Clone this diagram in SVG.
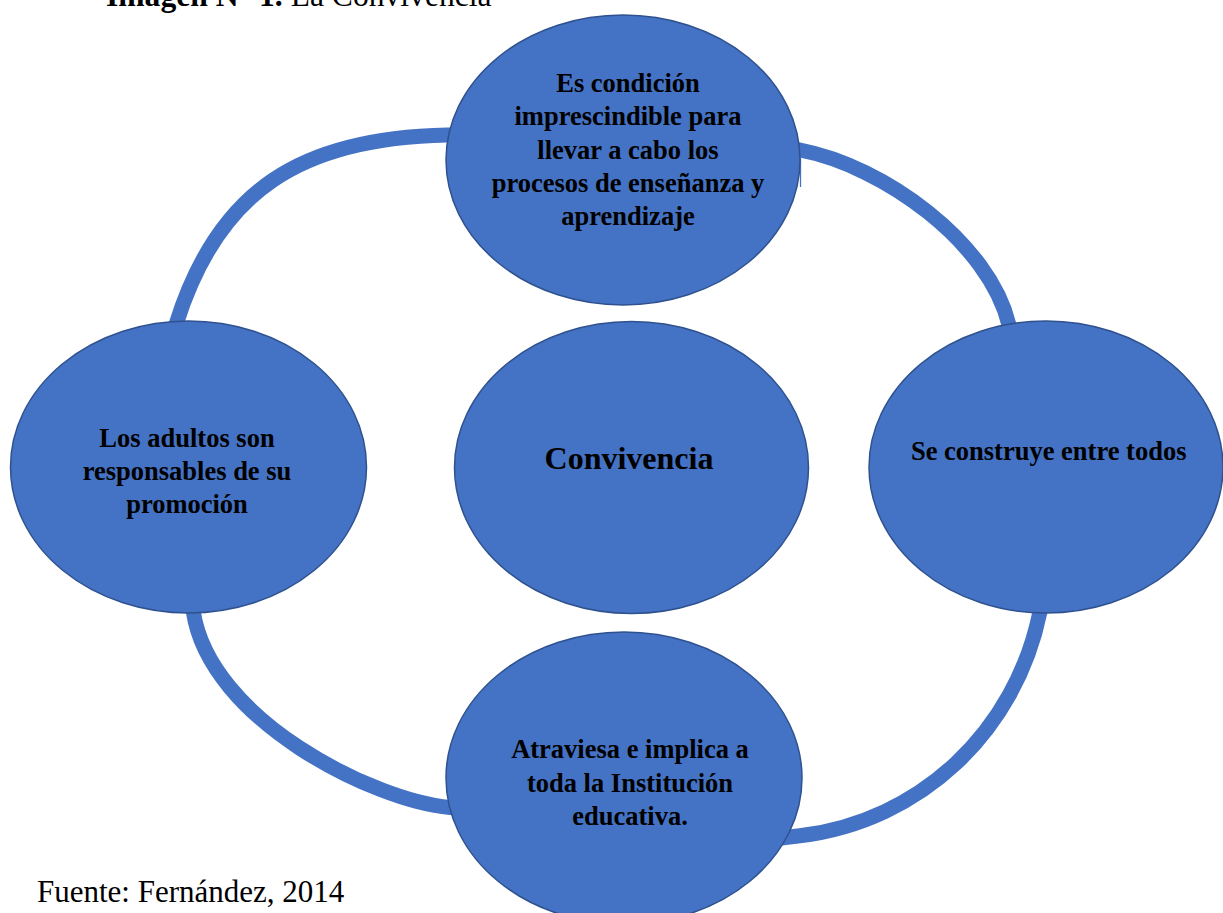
<svg xmlns="http://www.w3.org/2000/svg" width="1223" height="913" viewBox="0 0 1223 913">
<style>
.node{fill:#4472C4;stroke:#2F528F;stroke-width:1.5}
.ring{fill:none;stroke:#4472C4;stroke-width:15;stroke-linecap:butt}
.lbl{font-family:"Liberation Serif","Times New Roman",serif;font-weight:bold;font-size:26.5px;fill:#000;text-anchor:middle}
.cap{font-family:"Liberation Serif","Times New Roman",serif;font-size:31px;fill:#000}
</style>
<rect width="1223" height="913" fill="#fff"/>
<text class="cap" x="106" y="6" style="font-size:31.6px"><tspan font-weight="bold">Imagen N° 1.</tspan> La Convivencia</text>
<g id="connectors">
<path class="ring" d="M170.5,342.1 L176.5,323 C218.5,189.4 302,137.9 447,135 L472,134.5"/>
<path class="ring" d="M780,146.2 L800,150 C883.5,165.9 989.2,242.4 1009,325 L1014,345.4"/>
<path class="ring" d="M1044,592.1 L1040,611.7 C1015.6,731.3 920.8,821.2 800,835.8 L775,838.8"/>
<path class="ring" d="M190.3,591.9 L193.3,611.7 C209.8,720.6 375.2,801.3 450,807.5 L475,809.6"/>
<path d="M800.5,158 L800.5,187" fill="none" stroke="#4472C4" stroke-width="1.3"/>
</g>
<g id="node-top">
<ellipse class="node" cx="623" cy="160" rx="177" ry="145"/>
<text class="lbl"><tspan x="628" y="92">Es condición</tspan><tspan x="628" y="125.3">imprescindible para</tspan><tspan x="628" y="158.6">llevar a cabo los</tspan><tspan x="628" y="192">procesos de enseñanza y</tspan><tspan x="628" y="225.3">aprendizaje</tspan></text>
</g>
<g id="node-left">
<ellipse class="node" cx="188.5" cy="467" rx="178" ry="146"/>
<text class="lbl"><tspan x="187" y="446.7">Los adultos son</tspan><tspan x="187" y="480">responsables de su</tspan><tspan x="187" y="513">promoción</tspan></text>
</g>
<g id="node-center">
<ellipse class="node" cx="631.5" cy="467.5" rx="177" ry="146"/>
<text class="lbl" x="629" y="469.3" style="font-size:32px">Convivencia</text>
</g>
<g id="node-right">
<ellipse class="node" cx="1046" cy="467" rx="177" ry="146"/>
<text class="lbl" x="1048.7" y="460">Se construye entre todos</text>
</g>
<g id="node-bottom">
<ellipse class="node" cx="624" cy="778" rx="178" ry="146"/>
<text class="lbl"><tspan x="630" y="758">Atraviesa e implica a</tspan><tspan x="630" y="791.5">toda la Institución</tspan><tspan x="630" y="824.5">educativa.</tspan></text>
</g>
<text class="cap" x="37" y="902">Fuente: Fernández, 2014</text>
</svg>
